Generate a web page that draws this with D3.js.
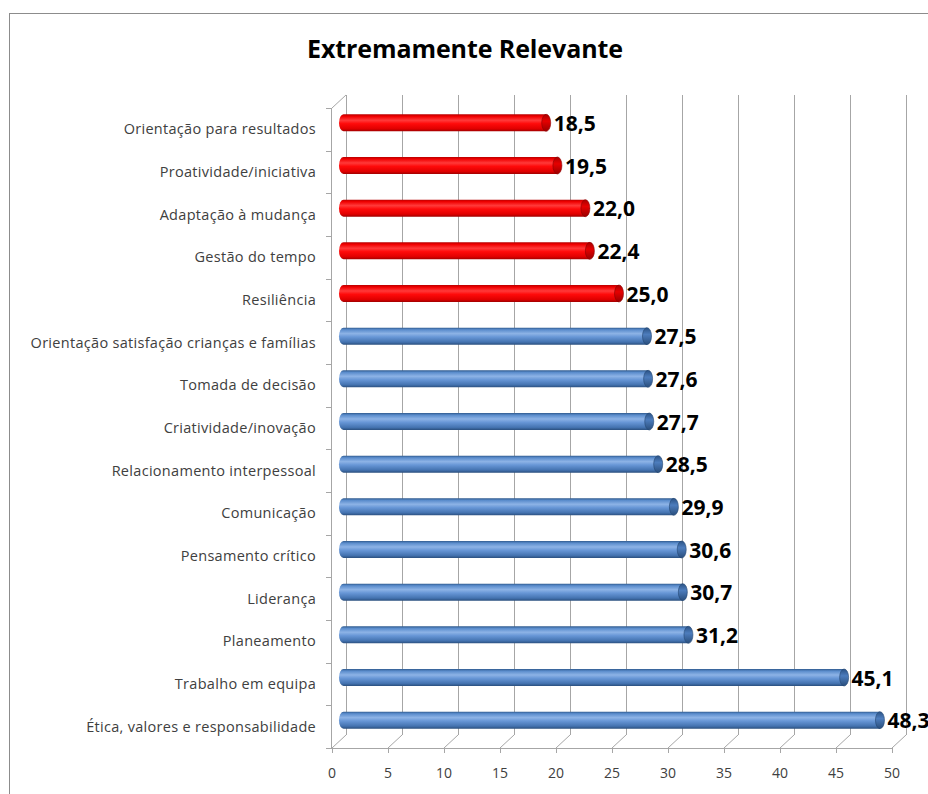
<!DOCTYPE html>
<html>
<head>
<meta charset="utf-8">
<script src="https://cdn.jsdelivr.net/npm/d3@7"></script>
<style>
  html, body { margin: 0; padding: 0; background: #fff; }
  svg { display: block; }
</style>
</head>
<body>
<svg id="chart" width="928" height="794"></svg>
<script>
// Competences ranked "Extremamente Relevante" (%)
const categories = [
  "Orientação para resultados",
  "Proatividade/iniciativa",
  "Adaptação à mudança",
  "Gestão do tempo",
  "Resiliência",
  "Orientação satisfação crianças e famílias",
  "Tomada de decisão",
  "Criatividade/inovação",
  "Relacionamento interpessoal",
  "Comunicação",
  "Pensamento crítico",
  "Liderança",
  "Planeamento",
  "Trabalho em equipa",
  "Ética, valores e responsabilidade"
];
const values = [18.5, 19.5, 22.0, 22.4, 25.0, 27.5, 27.6, 27.7, 28.5, 29.9, 30.6, 30.7, 31.2, 45.1, 48.3];
const highlighted = [true, true, true, true, true, false, false, false, false, false, false, false, false, false, false];
const xTicks = [0, 5, 10, 15, 20, 25, 30, 35, 40, 45, 50];
const title = "Extremamente Relevante";

const svg = d3.select("#chart");
const fmt = v => d3.format(".1f")(v).replace(".", ",");

// Front plane of the 3D plot
const frontLeft = 332, frontRight = 892, frontTop = 108, frontBottom = 748;
// depth offset of the back wall
const dx = 14, dy = -13;

const x = d3.scaleLinear().domain([0, 50]).range([frontLeft, frontRight]);
const y = d3.scaleBand().domain(categories).range([frontTop, frontBottom]);

// Outer chart frame
svg.append("rect")
  .attr("x", 9.5).attr("y", 13.5).attr("width", 940).attr("height", 800)
  .attr("fill", "#fff").attr("stroke", "#8c8c8c").attr("stroke-width", 1);

// Title
svg.append("text")
  .attr("x", 465).attr("y", 58)
  .attr("text-anchor", "middle")
  .attr("font-family", "'Open Sans', sans-serif")
  .attr("font-weight", 700)
  .attr("font-size", 25)
  .attr("letter-spacing", -0.1)
  .attr("fill", "#000")
  .text(title);

const gridColor = "#a6a6a6";
const grid = svg.append("g").attr("stroke", gridColor).attr("stroke-width", 1).attr("fill", "none");

// Back-wall vertical gridlines
grid.selectAll("line.back").data(xTicks).join("line")
  .attr("class", "back")
  .attr("x1", d => Math.round(x(d) + dx) + 0.5).attr("x2", d => Math.round(x(d) + dx) + 0.5)
  .attr("y1", frontTop + dy).attr("y2", frontBottom + dy);

// Floor diagonals
grid.selectAll("line.floor").data(xTicks).join("line")
  .attr("class", "floor")
  .attr("x1", d => x(d)).attr("y1", frontBottom)
  .attr("x2", d => x(d) + dx).attr("y2", frontBottom + dy);

// Front floor edge and tick marks
grid.append("line")
  .attr("x1", frontLeft).attr("x2", frontRight)
  .attr("y1", frontBottom + 0.5).attr("y2", frontBottom + 0.5);
grid.selectAll("line.tick").data(xTicks).join("line")
  .attr("class", "tick")
  .attr("x1", d => Math.round(x(d)) + 0.5).attr("x2", d => Math.round(x(d)) + 0.5)
  .attr("y1", frontBottom).attr("y2", frontBottom + 5);

// Left wall: front vertical axis with corner to back wall
grid.append("line")
  .attr("x1", frontLeft - 0.5).attr("x2", frontLeft - 0.5)
  .attr("y1", frontTop).attr("y2", frontBottom);
grid.append("line")
  .attr("x1", frontLeft).attr("y1", frontTop)
  .attr("x2", frontLeft + dx).attr("y2", frontTop + dy);
// category ticks on the vertical axis
const bounds = categories.map(c => y(c)).concat([frontBottom]);
grid.selectAll("line.ytick").data(bounds).join("line")
  .attr("class", "ytick")
  .attr("x1", frontLeft - 6).attr("x2", frontLeft)
  .attr("y1", d => Math.round(d) + 0.5).attr("y2", d => Math.round(d) + 0.5);

// X axis labels
svg.append("g").selectAll("text").data(xTicks).join("text")
  .attr("x", d => x(d)).attr("y", 778)
  .attr("text-anchor", "middle")
  .attr("font-family", "'Open Sans', sans-serif")
  .attr("font-size", 14)
  .attr("fill", "#404040")
  .text(d => d);

// Category labels
svg.append("g").selectAll("text").data(categories).join("text")
  .attr("x", 316)
  .attr("y", d => y(d) + y.bandwidth() / 2 + 5)
  .attr("text-anchor", "end")
  .attr("font-family", "'Open Sans', sans-serif")
  .attr("font-size", 14.5)
  .attr("letter-spacing", 0.3)
  .attr("fill", "#404040")
  .text(d => d);

// Cylinder gradients
const defs = svg.append("defs");
function cylGrad(id, stops) {
  const g = defs.append("linearGradient").attr("id", id)
    .attr("x1", 0).attr("y1", 0).attr("x2", 0).attr("y2", 1);
  stops.forEach(([o, c]) => g.append("stop").attr("offset", o).attr("stop-color", c));
}
cylGrad("blueCyl", [[0, "#2f5a8e"], [0.12, "#5a8ccc"], [0.35, "#8db3e6"], [0.55, "#6796d6"], [0.85, "#4473b0"], [1, "#2a4f7e"]]);
cylGrad("redCyl", [[0, "#b80000"], [0.12, "#f00000"], [0.35, "#ff3a3a"], [0.55, "#ff0a0a"], [0.85, "#e00000"], [1, "#a00000"]]);
cylGrad("blueCap", [[0, "#2b5284"], [0.4, "#4d7dbd"], [1, "#2a4e7c"]]);
cylGrad("redCap", [[0, "#a80000"], [0.4, "#e60000"], [1, "#9a0000"]]);

const barH = 17, capRx = 4.5;
const midDx = dx / 2, midDy = dy / 2;
const bars = svg.append("g").selectAll("g").data(categories).join("g");
const cy = d => y(d) + y.bandwidth() / 2 + midDy;
const x0 = x(0) + midDx;
const xe = (d, i) => x(values[i]) + midDx;

// body (left end rounded)
bars.append("path")
  .attr("d", (d, i) => {
    const top = cy(d) - barH / 2, bot = cy(d) + barH / 2, xr = xe(d, i);
    return `M${xr},${top} L${x0 + capRx},${top} A${capRx},${barH / 2} 0 0 0 ${x0 + capRx},${bot} L${xr},${bot} Z`;
  })
  .attr("fill", (d, i) => highlighted[i] ? "url(#redCyl)" : "url(#blueCyl)");
// end cap
bars.append("ellipse")
  .attr("cx", (d, i) => xe(d, i)).attr("cy", d => cy(d))
  .attr("rx", capRx).attr("ry", barH / 2)
  .attr("fill", (d, i) => highlighted[i] ? "url(#redCap)" : "url(#blueCap)")
  .attr("stroke", (d, i) => highlighted[i] ? "#8a0000" : "#244672")
  .attr("stroke-width", 0.6);

// value labels
bars.append("text")
  .attr("x", (d, i) => xe(d, i) + capRx + 3)
  .attr("y", d => cy(d) + 8)
  .attr("font-family", "'Open Sans', sans-serif")
  .attr("font-weight", 700)
  .attr("font-size", 21)
  .attr("letter-spacing", 0)
  .attr("fill", "#000")
  .text((d, i) => fmt(values[i]));
</script>
</body>
</html>
